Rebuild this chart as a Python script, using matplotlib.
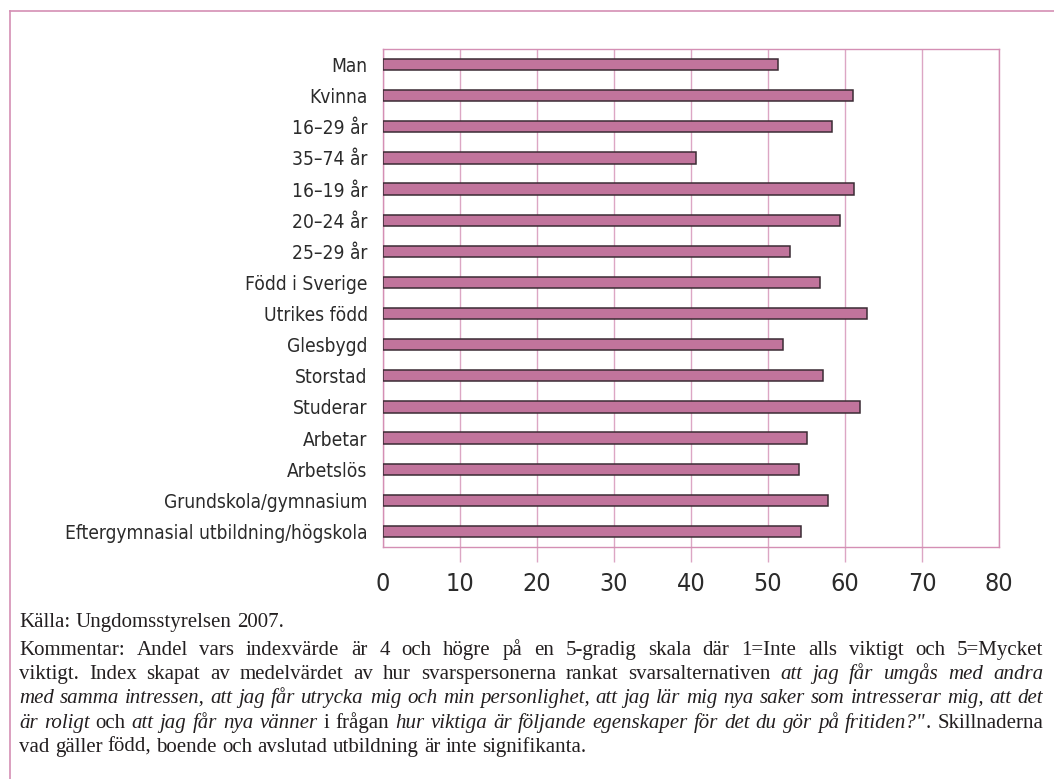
import re
import matplotlib
matplotlib.use("Agg")
import matplotlib.pyplot as plt
import numpy as np

# data
kategorier = ["Man", "Kvinna", "16–29 år", "35–74 år", "16–19 år", "20–24 år",
              "25–29 år", "Född i Sverige", "Utrikes född", "Glesbygd", "Storstad",
              "Studerar", "Arbetar", "Arbetslös", "Grundskola/gymnasium",
              "Eftergymnasial utbildning/högskola"]
andel = [51.3, 61.1, 58.3, 40.6, 61.2, 59.3, 52.9, 56.8,
         62.9, 52.0, 57.2, 61.9, 55.0, 54.0, 57.8, 54.3]
xticks = [0, 10, 20, 30, 40, 50, 60, 70, 80]

# footnote lines: (text, italic)
fotnot = [
    [("Källa: Ungdomsstyrelsen 2007.", False)],
    [("Kommentar: Andel vars indexvärde är 4 och högre på en 5-gradig skala där 1=Inte alls viktigt och 5=Mycket", False)],
    [("viktigt. Index skapat av medelvärdet av hur svarspersonerna rankat svarsalternativen ", False),
     ("att jag får umgås med andra", True)],
    [("med samma intressen, att jag får utrycka mig och min personlighet, att jag lär mig nya saker som intresserar mig, att det", True)],
    [("är roligt", True), (" och ", False), ("att jag får nya vänner", True), (" i frågan ", False),
     ("hur viktiga är följande egenskaper för det du gör på fritiden?\"", True), (". Skillnaderna", False)],
    [("vad gäller född, boende och avslutad utbildning är inte signifikanta.", False)],
]
justera = [False, True, True, True, True, False]

rosa = "#C1749C"
rutnat = "#DCA6C4"
ram = "#D48FB4"
smal = dict(family=["DejaVu Sans"], stretch="condensed")
serif = ["Liberation Serif", "DejaVu Serif"]

W, H = 1054, 779
fig = plt.figure(figsize=(W / 100, H / 100), dpi=100)

# outer frame: top and left lines only
fig.add_artist(plt.Line2D([10 / W, 1], [1 - 11 / H, 1 - 11 / H], color=ram, lw=1.2))
fig.add_artist(plt.Line2D([10 / W, 10 / W], [0, 1 - 11 / H], color=ram, lw=1.2))

ax = fig.add_axes([383 / W, 1 - 547 / H, (999 - 383) / W, (547 - 49) / H])
y = np.arange(len(kategorier))
ax.barh(y, andel, height=0.36, color=rosa, edgecolor="#3b2b34", linewidth=1.1, zorder=3)
ax.set_ylim(len(kategorier) - 0.5, -0.5)
ax.set_xlim(0, 80)
ax.set_xticks(xticks)
ax.set_xticklabels([str(t) for t in xticks], fontsize=18, color="#2b2b2b", **smal)
ax.set_yticks(y)
ax.set_yticklabels(kategorier, fontsize=13.8, color="#2b2b2b", **smal)
ax.tick_params(axis="y", length=0, pad=11)
ax.tick_params(axis="x", length=11, color=rutnat, width=1, pad=7)
ticks = ax.xaxis.get_major_ticks()
ticks[0].tick1line.set_visible(False)
ticks[-1].tick1line.set_visible(False)
ax.grid(axis="x", color=rutnat, lw=1, zorder=0)
for s in ax.spines.values():
    s.set_color(ram)
    s.set_linewidth(1)

# footnote with italic runs, justified lines
x0, x1 = 19, 1043
baslinjer = [627, 655, 679, 703, 728, 752]
fig.canvas.draw()
r = fig.canvas.get_renderer()


def bredd(s, it, fs):
    t = fig.text(0, 0, s, fontsize=fs, family=serif, style="italic" if it else "normal")
    w = t.get_window_extent(r).width
    t.remove()
    return w


# size a bit under the reference width of the source line (~290 px)
fs = 13 * 262 / bredd("Källa: Ungdomsstyrelsen 2007.", False, 13)

for rad, just, yb in zip(fotnot, justera, baslinjer):
    ord_ = []  # [text, italic, glued to previous]
    mellanrum = True
    for text, it in rad:
        for tok in re.split(r"( +)", text):
            if tok == "":
                continue
            if tok.strip() == "":
                mellanrum = True
                continue
            ord_.append([tok, it, not mellanrum and len(ord_) > 0])
            mellanrum = False
    widths = [bredd(o[0], o[1], fs) for o in ord_]
    mellan = bredd("a a", False, fs) - bredd("aa", False, fs)
    gaps = sum(1 for o in ord_[1:] if not o[2])
    if just and gaps:
        mellan = (x1 - x0 - sum(widths)) / gaps
    x = x0
    for i, ((o, it, glued), w) in enumerate(zip(ord_, widths)):
        if i > 0 and not glued:
            x += mellan
        fig.text(x / W, 1 - yb / H, o, fontsize=fs, family=serif,
                 style="italic" if it else "normal", va="baseline", color="#231f20")
        x += w

fig.savefig("out.png", dpi=100)
